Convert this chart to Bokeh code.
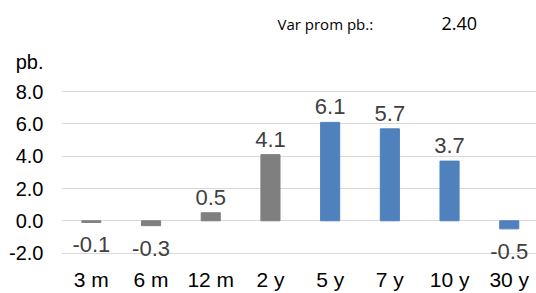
from bokeh.plotting import figure
from bokeh.models import ColumnDataSource, FixedTicker, Range1d, Label
from bokeh.embed import file_html
from bokeh.resources import INLINE
from bokeh.core.properties import value

# ---- data ----
categories = ["3 m", "6 m", "12 m", "2 y", "5 y", "7 y", "10 y", "30 y"]
changes = [-0.1, -0.3, 0.5, 4.1, 6.1, 5.7, 3.7, -0.5]
groups = ["short", "short", "short", "short", "long", "long", "long", "long"]
y_ticks = [-2, 0, 2, 4, 6, 8]
y_tick_labels = ["-2.0", "0.0", "2.0", "4.0", "6.0", "8.0"]
avg_text = "Var prom pb.:"
avg_value = 2.40
unit_text = "pb."

group_colors = {"short": "#7F7F7F", "long": "#4F81BD"}

idx = list(range(len(categories)))
colors = [group_colors[g] for g in groups]
src = ColumnDataSource(dict(x=idx, top=changes, color=colors))
pos = [i for i, v in enumerate(changes) if v >= 0]
neg = [i for i, v in enumerate(changes) if v < 0]
src_pos = ColumnDataSource(dict(x=pos, y=[changes[i] for i in pos],
                                lbl=[f"{changes[i]:.1f}" for i in pos]))
src_neg = ColumnDataSource(dict(x=neg, y=[changes[i] for i in neg],
                                lbl=[f"{changes[i]:.1f}" for i in neg]))

W, H = 536, 293
LEFT, BOTTOM = 61, 31
PX_PER_CAT = 59.7
PX_PER_UNIT = 16.26
ZERO_PX = 222.0
frame_w = W - LEFT
frame_h = H - BOTTOM
y_hi = ZERO_PX / PX_PER_UNIT
y_lo = -(frame_h - ZERO_PX) / PX_PER_UNIT
x_lo = -0.5
x_hi = x_lo + frame_w / PX_PER_CAT

p = figure(width=W, height=H, output_backend="svg", toolbar_location=None,
           x_range=Range1d(x_lo, x_hi), y_range=Range1d(y_lo, y_hi),
           min_border_left=LEFT, min_border_right=0, min_border_top=0,
           min_border_bottom=BOTTOM)
p.outline_line_color = None
p.background_fill_color = "white"
p.border_fill_color = "white"

p.vbar(x="x", top="top", bottom=0, width=0.32, fill_color="color",
       line_color="color", source=src)

font = value("Liberation Sans")
p.text(x="x", y="y", text="lbl", source=src_pos, text_align="center",
       text_baseline="bottom", y_offset=-8, text_font=font,
       text_font_size="22px", text_color="#404040")
p.text(x="x", y="y", text="lbl", source=src_neg, text_align="center",
       text_baseline="top", y_offset=15, text_font=font,
       text_font_size="22px", text_color="#404040")

# x axis
p.xaxis.ticker = FixedTicker(ticks=idx)
p.xaxis.major_label_overrides = {i: c for i, c in zip(idx, categories)}
p.xaxis.axis_line_color = None
p.xaxis.major_tick_line_color = None
p.xaxis.minor_tick_line_color = None
p.xaxis.major_tick_out = 0
p.xaxis.major_tick_in = 0
p.xaxis.major_label_text_font = "Liberation Sans"
p.xaxis.major_label_text_font_size = "21px"
p.xaxis.major_label_text_color = "#000000"
p.xaxis.major_label_standoff = 7
p.xgrid.grid_line_color = None

# y axis (unit label "pb." shown as the top label of the axis)
unit_pos = (ZERO_PX - 62) / PX_PER_UNIT
p.yaxis.ticker = FixedTicker(ticks=y_ticks + [unit_pos])
overrides = {t: s for t, s in zip(y_ticks, y_tick_labels)}
overrides[unit_pos] = unit_text
p.yaxis.major_label_overrides = overrides
p.yaxis.axis_line_color = None
p.yaxis.major_tick_line_color = None
p.yaxis.minor_tick_line_color = None
p.yaxis.major_tick_out = 0
p.yaxis.major_tick_in = 0
p.yaxis.major_label_text_font = "Liberation Sans"
p.yaxis.major_label_text_font_size = "20px"
p.yaxis.major_label_text_color = "#000000"
p.yaxis.major_label_standoff = 18
p.ygrid.ticker = FixedTicker(ticks=y_ticks)
p.ygrid.grid_line_color = "#D9D9D9"
p.ygrid.grid_line_width = 1

# header texts (annotation positions converted from pixel targets)
def dx(px):
    return x_lo + (px - LEFT) / PX_PER_CAT

def dy(py):
    return y_hi - py / PX_PER_UNIT

p.add_layout(Label(x=dx(277), y=dy(24), text=avg_text, text_font="Open Sans",
                   text_font_size="15px", text_baseline="middle",
                   text_color="#000000"))
p.add_layout(Label(x=dx(441), y=dy(23.5), text=f"{avg_value:.2f}",
                   text_font="Open Sans", text_font_size="18px",
                   text_baseline="middle", text_color="#000000"))

open("out.html", "w").write(file_html(p, INLINE))
